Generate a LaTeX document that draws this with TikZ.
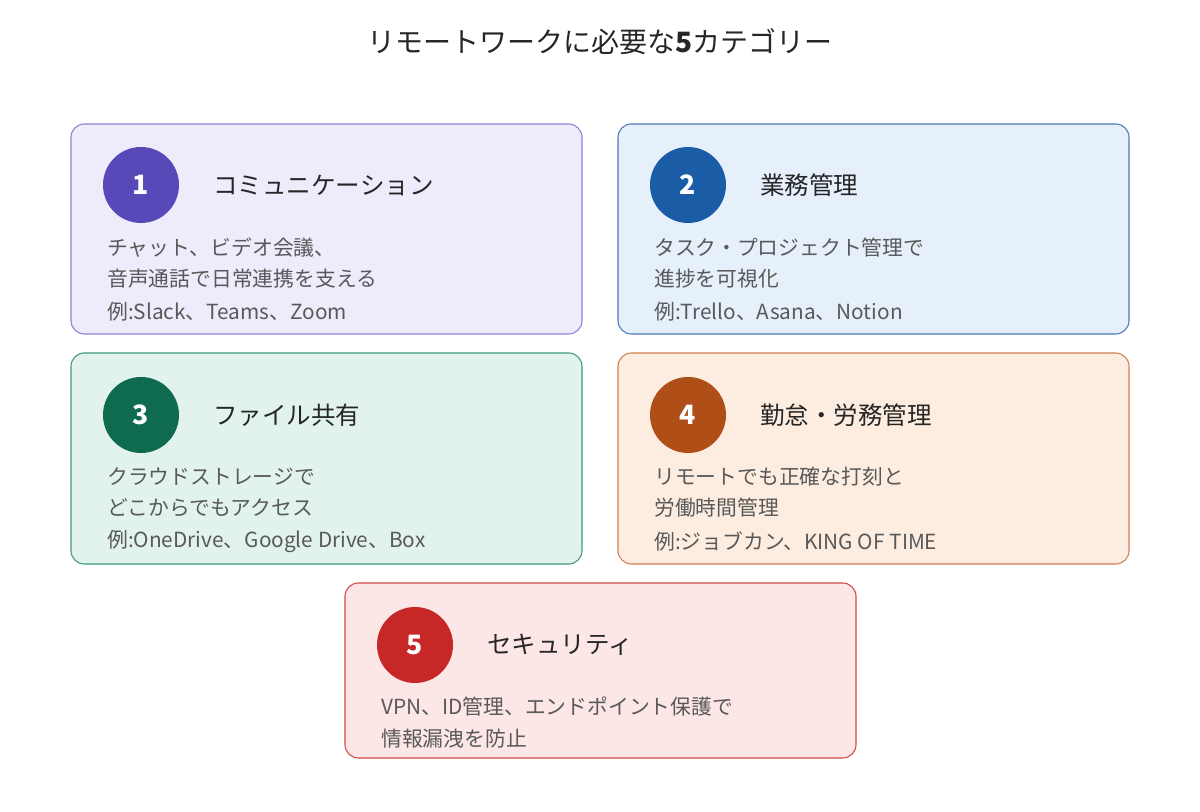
\documentclass[tikz,border=0pt]{standalone}
\usepackage{fontspec}
\setmainfont{Noto Sans CJK JP}
\begin{document}
\begin{tikzpicture}[x=0.75pt,y=-0.75pt,
 card/.style={draw,rounded corners=10pt,line width=0.8pt},
 num/.style={circle,minimum size=57pt,inner sep=0pt,text=white,font=\fontsize{20}{24}\selectfont\bfseries},
 head/.style={anchor=west,text=black!85,font=\fontsize{18.4}{22}\selectfont,inner sep=0pt},
 body/.style={anchor=west,text=black!65,font=\fontsize{15.6}{19}\selectfont,inner sep=0pt}]
\useasboundingbox[fill=white] (0,0) rectangle (1200,812);
\definecolor{fa}{HTML}{EEEBFB}\definecolor{ba}{HTML}{8C7FD6}\definecolor{ca}{HTML}{5849B8}
\definecolor{fb}{HTML}{E5F0FA}\definecolor{bb}{HTML}{4A78B5}\definecolor{cb}{HTML}{1A5DA6}
\definecolor{fc}{HTML}{E1F3EC}\definecolor{bc}{HTML}{3E9A72}\definecolor{cc}{HTML}{0E6B50}
\definecolor{fd}{HTML}{FCEDE0}\definecolor{bd}{HTML}{D08050}\definecolor{cd}{HTML}{B04E18}
\definecolor{fe}{HTML}{FCE6E6}\definecolor{be}{HTML}{D04848}\definecolor{ce}{HTML}{C62828}
\node[text=black!85,font=\fontsize{21}{25}\selectfont] (title) at (600,42) {リモートワークに必要な\textbf{5}カテゴリー};
% card 1
\draw[card,fill=fa,draw=ba] (71,124) rectangle (582,334);
\node[num,fill=ca] (n1) at (141,185) {1};
\node[head] (h1) at (213,185) {コミュニケーション};
\node[body] (b1a) at (107,248) {チャット、ビデオ会議、};
\node[body] (b1b) at (107,279) {音声通話で日常連携を支える};
\node[body] (b1c) at (107,312) {例:Slack、Teams、Zoom};
% card 2
\draw[card,fill=fb,draw=bb] (618,124) rectangle (1129,334);
\node[num,fill=cb] (n2) at (688,185) {2};
\node[head] (h2) at (760,185) {業務管理};
\node[body] (b2a) at (654,248) {タスク・プロジェクト管理で};
\node[body] (b2b) at (654,279) {進捗を可視化};
\node[body] (b2c) at (654,312) {例:Trello、Asana、Notion};
% card 3
\draw[card,fill=fc,draw=bc] (71,353) rectangle (582,564);
\node[num,fill=cc] (n3) at (141,415) {3};
\node[head] (h3) at (213,415) {ファイル共有};
\node[body] (b3a) at (107,477) {クラウドストレージで};
\node[body] (b3b) at (107,508) {どこからでもアクセス};
\node[body] (b3c) at (107,541) {例:OneDrive、Google Drive、Box};
% card 4
\draw[card,fill=fd,draw=bd] (618,353) rectangle (1129,564);
\node[num,fill=cd] (n4) at (688,415) {4};
\node[head] (h4) at (760,415) {勤怠・労務管理};
\node[body] (b4a) at (654,477) {リモートでも正確な打刻と};
\node[body] (b4b) at (654,508) {労働時間管理};
\node[body] (b4c) at (654,541) {例:ジョブカン、KING OF TIME};
% card 5
\draw[card,fill=fe,draw=be] (345,583) rectangle (856,758);
\node[num,fill=ce] (n5) at (415,645) {5};
\node[head] (h5) at (487,645) {セキュリティ};
\node[body] (b5a) at (381,707) {VPN、ID管理、エンドポイント保護で};
\node[body] (b5b) at (381,739) {情報漏洩を防止};
\end{tikzpicture}
\end{document}
